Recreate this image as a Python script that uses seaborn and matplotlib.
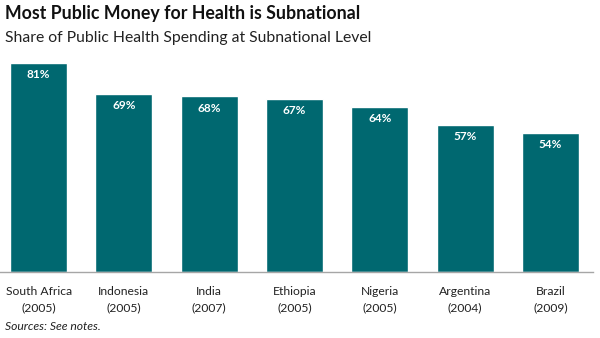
import matplotlib
matplotlib.use("Agg")
import matplotlib.pyplot as plt
import seaborn as sns
import pandas as pd
import numpy as np

countries = ["South Africa", "Indonesia", "India", "Ethiopia", "Nigeria", "Argentina", "Brazil"]
years = ["2005", "2005", "2007", "2005", "2005", "2004", "2009"]
shares = [81, 69, 68, 67, 64, 57, 54]
labels = [f"{c}\n({y})" for c, y in zip(countries, years)]

sns.set_theme(style="white")
plt.rcParams['font.family'] = ['Lato', 'DejaVu Sans']

df = pd.DataFrame({"label": labels, "share": shares})

fig = plt.figure(figsize=(6, 3.38), dpi=100)
ax = fig.add_axes([-4/600, 66/338, 597/600, (272-41)/338])
sns.barplot(data=df, x="label", y="share", color="#006870", saturation=1,
            width=0.67, ax=ax)
ax.set_ylim(0, 89.5)
ax.set_xlim(-0.5, len(labels) - 0.5)
ax.set_xlabel("")
ax.set_ylabel("")
ax.set_yticks([])
for s in ["top", "right", "left"]:
    ax.spines[s].set_visible(False)
ax.spines["bottom"].set_color("#a6a6a6")
ax.spines["bottom"].set_linewidth(1)
ax.tick_params(axis="x", which="major", length=0, labelsize=8.7, colors="#222222", pad=10)
ax.set_xticks(np.arange(len(labels)) + 0.5, minor=True)
ax.tick_params(axis="x", which="minor", length=4, color="#a6a6a6", width=1)
ax.set_xticks(np.arange(len(labels)))
ax.set_xticklabels(labels, linespacing=1.55)

for i, v in enumerate(shares):
    ax.text(i, v - 4.6, f"{v}%", ha="center", va="center", color="white",
            fontsize=8.5, fontweight="bold")

fig.text(5/600, 1 - 14/338, "Most Public Money for Health is Subnational",
         fontsize=12.8, fontweight="bold", color="#111111", va="center", ha="left")
fig.text(5/600, 1 - 38/338, "Share of Public Health Spending at Subnational Level",
         fontsize=11.3, color="#222222", va="center", ha="left")
fig.text(5/600, 1 - 326/338, "Sources: See notes.", fontsize=8.7, style="italic",
         color="#222222", va="center", ha="left")

fig.savefig("out.png", dpi=100)
